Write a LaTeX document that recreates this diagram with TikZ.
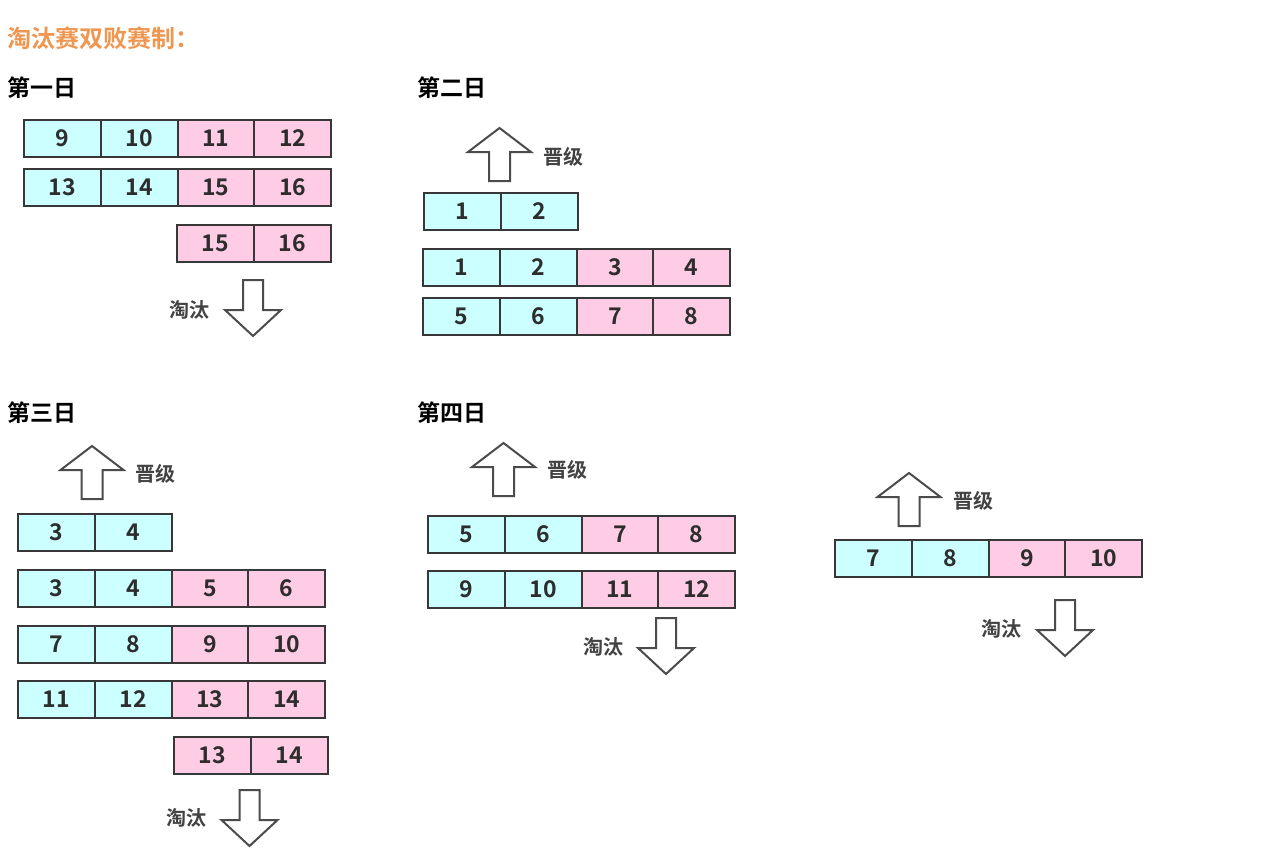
\documentclass[tikz,border=0pt]{standalone}
\usepackage{fontspec}
\setmainfont{Noto Sans CJK SC}[BoldFont={Noto Sans CJK SC Bold}]
\definecolor{cyanbox}{RGB}{204,255,255}
\definecolor{pinkbox}{RGB}{255,204,230}
\definecolor{edge}{RGB}{55,55,55}
\definecolor{titleorange}{RGB}{240,150,80}
\definecolor{txt}{RGB}{45,45,45}
\tikzset{
  cell/.style={draw=edge,line width=2pt,minimum width=76.75pt,minimum height=36.5pt,
    inner sep=0pt,anchor=north west,text=txt,font=\bfseries\fontsize{23}{23}\selectfont},
  cy/.style={cell,fill=cyanbox},
  pk/.style={cell,fill=pinkbox},
  arr/.style={draw=edge!90,line width=2pt,fill=white,line join=miter},
  lab/.style={inner sep=0pt,text=txt!90,font=\bfseries\fontsize{20}{20}\selectfont},
  day/.style={inner sep=0pt,anchor=west,text=black,font=\bfseries\fontsize{23}{23}\selectfont},
}
\newcommand\UpArr[2]{% cx, tip y
  \draw[arr] (#1,#2) -- ++(31.5,24) -- ++(-21,0) -- ++(0,29) -- ++(-21,0) -- ++(0,-29) -- ++(-21,0) -- cycle;}
\newcommand\DnArr[2]{% cx, top y
  \draw[arr] (#1-10,#2) -- ++(20,0) -- ++(0,30) -- ++(18,0) -- ++(-28,26) -- ++(-28,-26) -- ++(18,0) -- cycle;}
\newcommand\FourRow[7]{% prefix, x, y, a, b, c, d
  \node[cy] (#1a) at (#2+1,#3+1) {#4};
  \node[cy] (#1b) at (#2+77.75,#3+1) {#5};
  \node[pk] (#1c) at (#2+154.5,#3+1) {#6};
  \node[pk] (#1d) at (#2+231.25,#3+1) {#7};}
\newcommand\TwoRow[6]{% prefix, x, y, a, b, style
  \node[#6] (#1a) at (#2+1,#3+1) {#4};
  \node[#6] (#1b) at (#2+77.75,#3+1) {#5};}
\begin{document}
\begin{tikzpicture}[x=1pt,y=-1pt]
\useasboundingbox[fill=white] (0,0) rectangle (1273,862);
% title
\node[inner sep=0pt,anchor=west,text=titleorange,font=\bfseries\fontsize{24}{24}\selectfont] (title) at (7,38) {淘汰赛双败赛制：};
% day labels
\node[day] (d1) at (7,88) {第一日};
\node[day] (d2) at (417,88) {第二日};
\node[day] (d3) at (7,413) {第三日};
\node[day] (d4) at (417,413) {第四日};
% Day 1
\FourRow{p1r1}{22}{118}{9}{10}{11}{12}
\FourRow{p1r2}{22}{167}{13}{14}{15}{16}
\TwoRow{p1r3}{175}{223}{15}{16}{pk}
\DnArr{253}{280}
\node[lab] (t1) at (189,310) {淘汰};
% Day 2
\UpArr{499.5}{128}
\node[lab] (j2) at (563,157) {晋级};
\TwoRow{p2r0}{422}{191}{1}{2}{cy}
\FourRow{p2r1}{421}{247}{1}{2}{3}{4}
\FourRow{p2r2}{421}{296}{5}{6}{7}{8}
% Day 3
\UpArr{92}{446}
\node[lab] (j3) at (155.5,474) {晋级};
\TwoRow{p3r0}{16}{512}{3}{4}{cy}
\FourRow{p3r1}{16}{568}{3}{4}{5}{6}
\FourRow{p3r2}{16}{624}{7}{8}{9}{10}
\FourRow{p3r3}{16}{679}{11}{12}{13}{14}
\TwoRow{p3r4}{172}{735}{13}{14}{pk}
\DnArr{249.5}{790}
\node[lab] (t3) at (186.5,818) {淘汰};
% Day 4
\UpArr{503.5}{443}
\node[lab] (j4) at (567.5,470) {晋级};
\FourRow{p4r1}{426}{514}{5}{6}{7}{8}
\FourRow{p4r2}{426}{569}{9}{10}{11}{12}
\DnArr{666}{618}
\node[lab] (t4) at (603,647) {淘汰};
% right group
\UpArr{909}{473}
\node[lab] (j5) at (973.5,501) {晋级};
\FourRow{p5r1}{833}{538}{7}{8}{9}{10}
\DnArr{1065}{600}
\node[lab] (t5) at (1001.5,629) {淘汰};
\end{tikzpicture}
\end{document}
